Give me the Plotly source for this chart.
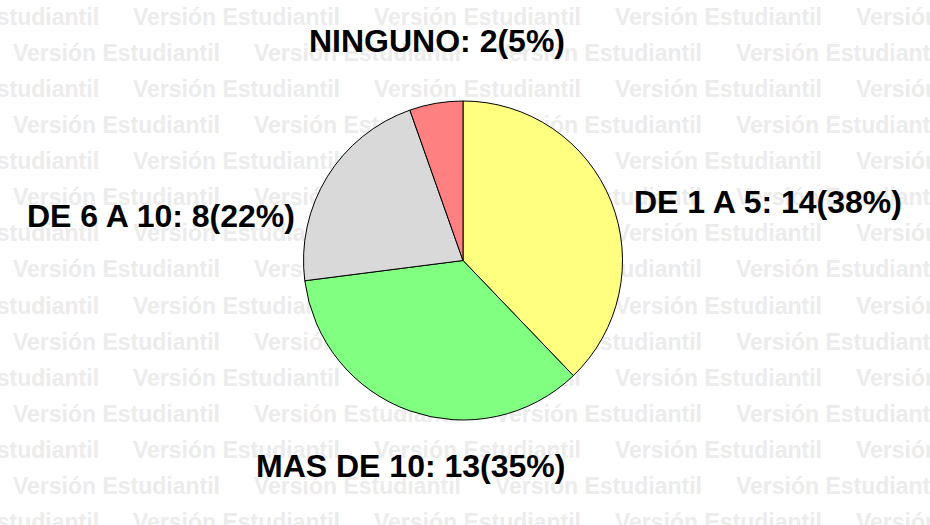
import plotly.graph_objects as go

# data
categories = ["DE 1 A 5", "MAS DE 10", "DE 6 A 10", "NINGUNO"]
counts = [14, 13, 8, 2]
colors = ["#FFFF80", "#80FF80", "#D9D9D9", "#FF8080"]

W, H = 930, 525
total = sum(counts)
labels = [f"{c}: {n}({round(100 * n / total)}%)" for c, n in zip(categories, counts)]

# label placement in pixels (x, y, anchor)
label_pos = [(632, 202, "left"), (410, 466, "center"), (297, 216, "right"), (437, 41, "center")]

# background watermark grid
wm_text = "Versión Estudiantil"
wm_w, wm_period, wm_dy = 207, 241, 36.1
wm_x, wm_y = [], []
for k in range(15):
    start = -108 if k % 2 == 0 else 13
    y = 19 + k * wm_dy
    x = start
    while x < W:
        wm_x.append(x + wm_w / 2)
        wm_y.append(y)
        x += wm_period

fig = go.Figure()

fig.add_trace(go.Scatter(
    x=wm_x, y=wm_y, mode="text",
    text=[wm_text] * len(wm_x), textposition="middle center",
    textfont=dict(family="Liberation Sans, Arial", size=23, color="#ECECEC", weight="bold"),
    hoverinfo="skip", showlegend=False, cliponaxis=True,
))

fig.add_trace(go.Pie(
    labels=categories, values=counts, sort=False, direction="clockwise",
    marker=dict(colors=colors, line=dict(color="black", width=1)),
    textinfo="none", hoverinfo="skip", showlegend=False,
    domain=dict(x=[303 / W, 623 / W], y=[1 - 420 / H, 1 - 101 / H]),
))

for txt, (px, py, anchor) in zip(labels, label_pos):
    fig.add_annotation(
        x=px, y=py, xref="x", yref="y", text=txt, showarrow=False,
        xanchor=anchor, yanchor="middle",
        font=dict(family="Liberation Sans, Arial", size=32, color="black", weight="bold"),
    )

fig.update_xaxes(range=[0, W], visible=False, showgrid=False, zeroline=False)
fig.update_yaxes(range=[H, 0], visible=False, showgrid=False, zeroline=False)
fig.update_layout(
    width=W, height=H, margin=dict(l=0, r=0, t=0, b=0),
    paper_bgcolor="white", plot_bgcolor="white", showlegend=False,
)

fig.write_html("out.html", config={"displayModeBar": False},
               post_script="document.body.style.margin = '0';")
